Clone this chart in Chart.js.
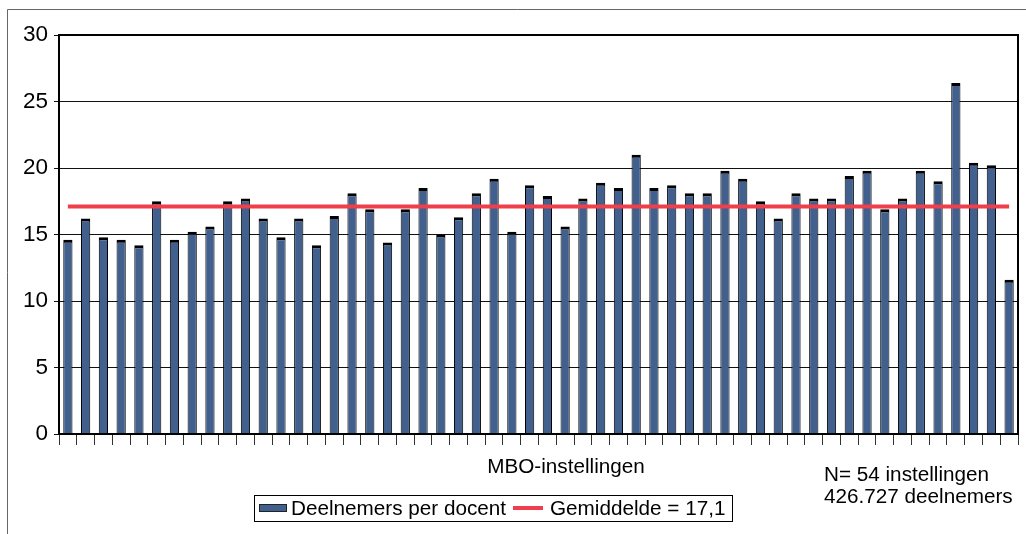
<!DOCTYPE html>
<html>
<head>
<meta charset="utf-8">
<script src="https://cdn.jsdelivr.net/npm/chart.js@4.4.1/dist/chart.umd.min.js"></script>
<style>
  html, body { margin: 0; padding: 0; background: #fff; }
  #wrap { width: 1026px; height: 534px; position: relative; }
</style>
</head>
<body>
<div id="wrap"><canvas id="c" width="1026" height="534"></canvas></div>
<script>
// ---- Data ----
const categories = ["1","2","3","4","5","6","7","8","9","10","11","12","13","14","15","16","17","18",
  "19","20","21","22","23","24","25","26","27","28","29","30","31","32","33","34","35","36",
  "37","38","39","40","41","42","43","44","45","46","47","48","49","50","51","52","53","54"];
const deelnemersPerDocent = [
  14.6, 16.2, 14.8, 14.6, 14.2, 17.5, 14.6, 15.2, 15.6, 17.5, 17.7, 16.2, 14.8, 16.2, 14.2, 16.4, 18.1, 16.9,
  14.4, 16.9, 18.5, 15.0, 16.3, 18.1, 19.2, 15.2, 18.7, 17.9, 15.6, 17.7, 18.9, 18.5, 21.0, 18.5, 18.7, 18.1,
  18.1, 19.8, 19.2, 17.5, 16.2, 18.1, 17.7, 17.7, 19.4, 19.8, 16.9, 17.7, 19.8, 19.0, 26.4, 20.4, 20.2, 11.6
];
const gemiddelde = 17.1;
const averageLine = [
  { x: categories[0], y: gemiddelde },
  { x: categories[categories.length - 1], y: gemiddelde }
];
const yTicks = [0, 5, 10, 15, 20, 25, 30];
const seriesLabels = ["Deelnemers per docent", "Gemiddelde = 17,1"];
const xAxisTitle = "MBO-instellingen";
const noteLines = ["N= 54 instellingen", "426.727 deelnemers"];

// ---- Styles ----
const FONT = "'Liberation Sans', Arial, sans-serif";
const barColor = "#42608e";
const barEdge = "#000";
const lineColor = "#ee3f4b";

const decor = {
  id: "decor",
  beforeDraw(chart) {
    const ctx = chart.ctx;
    ctx.save();
    ctx.fillStyle = "#fff";
    ctx.fillRect(0, 0, chart.width, chart.height);
    ctx.strokeStyle = "#666";
    ctx.lineWidth = 1;
    ctx.beginPath();
    ctx.moveTo(7.5, chart.height + 5);
    ctx.lineTo(7.5, 9.5);
    ctx.lineTo(chart.width + 5, 9.5);
    ctx.stroke();
    ctx.restore();
  },
  afterDatasetsDraw(chart) {
    const ctx = chart.ctx;
    const a = chart.chartArea;
    ctx.save();
    ctx.strokeStyle = "#000";
    ctx.lineWidth = 2;
    ctx.strokeRect(a.left, a.top, a.right - a.left, a.bottom - a.top);
    ctx.restore();
  },
  afterDraw(chart) {
    const ctx = chart.ctx;
    ctx.save();
    ctx.fillStyle = "#000";
    ctx.font = "20.7px " + FONT;
    ctx.textBaseline = "middle";
    ctx.textAlign = "center";
    ctx.fillText(xAxisTitle, 566, 467);
    ctx.textAlign = "left";
    ctx.fillText(noteLines[0], 824, 475);
    ctx.fillText(noteLines[1], 824, 497);
    ctx.strokeStyle = "#000";
    ctx.lineWidth = 1;
    ctx.strokeRect(254.5, 495.5, 478, 26);
    const ds0 = chart.data.datasets[0];
    const ds1 = chart.data.datasets[1];
    ctx.fillStyle = ds0.backgroundColor;
    ctx.fillRect(259, 504, 28, 8);
    ctx.strokeStyle = "#222";
    ctx.strokeRect(259.5, 504.5, 27, 7);
    ctx.fillStyle = "#000";
    ctx.fillText(ds0.label, 291, 509);
    ctx.strokeStyle = ds1.borderColor;
    ctx.lineWidth = 4;
    ctx.beginPath();
    ctx.moveTo(513, 508);
    ctx.lineTo(543, 508);
    ctx.stroke();
    ctx.fillText(ds1.label, 550, 509);
    ctx.restore();
  }
};

new Chart(document.getElementById("c"), {
  data: {
    labels: categories,
    datasets: [
      {
        type: "bar",
        label: seriesLabels[0],
        data: deelnemersPerDocent,
        backgroundColor: barColor,
        borderColor: barEdge,
        borderWidth: { top: 3, left: 1, right: 1, bottom: 0 },
        borderSkipped: false,
        barPercentage: 0.52,
        categoryPercentage: 1.0,
        order: 2
      },
      {
        type: "line",
        label: seriesLabels[1],
        data: averageLine,
        borderColor: lineColor,
        backgroundColor: lineColor,
        borderWidth: 4,
        pointRadius: 0,
        fill: false,
        order: 1
      }
    ]
  },
  options: {
    responsive: false,
    animation: false,
    devicePixelRatio: 1,
    layout: { padding: { left: 0, top: 35, right: 8, bottom: 0 } },
    plugins: { legend: { display: false }, tooltip: { enabled: false } },
    scales: {
      x: {
        type: "category",
        offset: true,
        grid: {
          offset: true,
          drawOnChartArea: false,
          drawTicks: true,
          tickLength: 11,
          color: "#333",
          lineWidth: 1
        },
        border: { display: true, color: "#000", width: 2 },
        ticks: { display: false },
        afterFit(scale) { scale.height = 100; }
      },
      y: {
        min: 0,
        max: 30,
        afterBuildTicks(scale) { scale.ticks = yTicks.map(v => ({ value: v })); },
        grid: { color: "#111", lineWidth: 1, tickLength: 5 },
        border: { display: true, color: "#000", width: 2 },
        ticks: {
          color: "#000",
          padding: 6,
          font: { family: FONT, size: 22.5 }
        },
        afterFit(scale) { scale.width = 59; }
      }
    }
  },
  plugins: [decor]
});
</script>
</body>
</html>
